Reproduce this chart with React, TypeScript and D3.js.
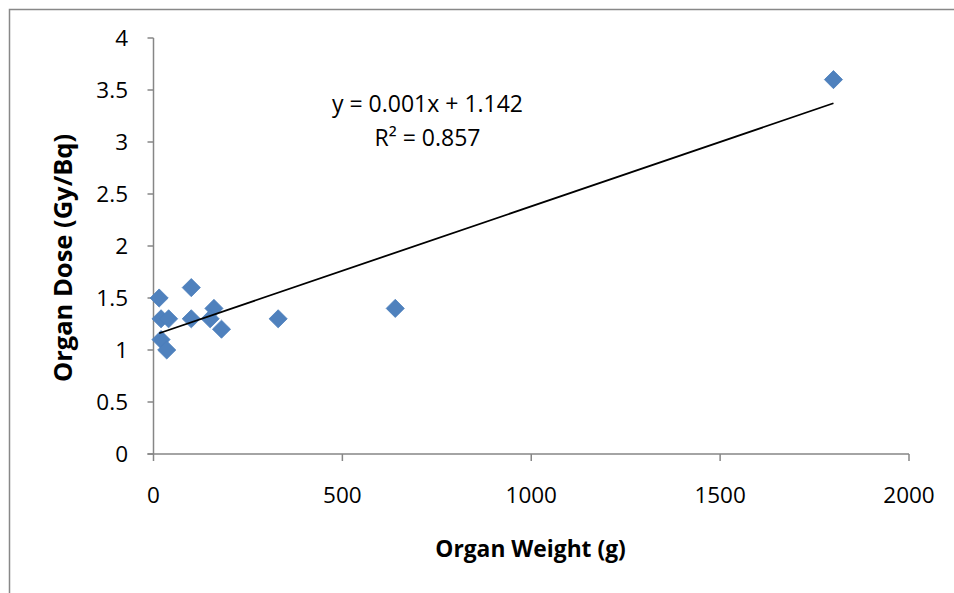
import React from "react";
import * as d3 from "d3";

const organWeight = [15, 100, 20, 40, 100, 160, 150, 180, 20, 35, 330, 640, 1800];
const organDose = [1.5, 1.6, 1.3, 1.3, 1.3, 1.4, 1.3, 1.2, 1.1, 1.0, 1.3, 1.4, 3.6];
const xTicks = [0, 500, 1000, 1500, 2000];
const yTicks = [0, 0.5, 1, 1.5, 2, 2.5, 3, 3.5, 4];
const xTitle = "Organ Weight (g)";
const yTitle = "Organ Dose (Gy/Bq)";
const equationLabel = "y = 0.001x + 1.142";
const r2Label = "R² = 0.857";

const W = 954;
const H = 593;
const FONT = "'Open Sans', 'Noto Sans', sans-serif";

export default function App() {
  const x = d3.scaleLinear().domain([0, 2000]).range([153.5, 909]);
  const y = d3.scaleLinear().domain([0, 4]).range([454, 38]);

  const mx = d3.mean(organWeight)!;
  const my = d3.mean(organDose)!;
  let sxy = 0, sxx = 0;
  for (let i = 0; i < organWeight.length; i++) {
    sxy += (organWeight[i] - mx) * (organDose[i] - my);
    sxx += (organWeight[i] - mx) ** 2;
  }
  const slope = sxy / sxx;
  const intercept = my - slope * mx;
  const x0 = d3.min(organWeight)!;
  const x1 = d3.max(organWeight)!;
  const trend = d3.line<number>().x((d) => x(d)).y((d) => y(intercept + slope * d))([x0, x1]) || "";

  const symbol = d3.symbol().type(d3.symbolDiamond2).size(210)() || "";
  const axisColor = "#868686";

  return (
    <svg width={W} height={H} style={{ position: "absolute", left: 0, top: 0, background: "#fff" }}>
      <rect x={9.5} y={9.5} width={1200} height={1200} fill="#fff" stroke="#888" strokeWidth={1.5} />
      {/* y axis */}
      <line x1={x(0)} x2={x(0)} y1={y(4)} y2={y(0)} stroke={axisColor} strokeWidth={1.5} />
      {yTicks.map((t) => (
        <g key={"y" + t}>
          <line x1={x(0) - 6} x2={x(0)} y1={y(t)} y2={y(t)} stroke={axisColor} strokeWidth={1.5} />
          <text x={128} y={y(t)} dy="0.36em" textAnchor="end" fontFamily={FONT} fontSize={22.5} fill="#000">
            {String(t)}
          </text>
        </g>
      ))}
      {/* x axis */}
      <line x1={x(0) - 6} x2={x(2000)} y1={y(0)} y2={y(0)} stroke={axisColor} strokeWidth={1.5} />
      {xTicks.map((t) => (
        <g key={"x" + t}>
          <line x1={x(t)} x2={x(t)} y1={y(0)} y2={y(0) + 7} stroke={axisColor} strokeWidth={1.5} />
          <text x={x(t)} y={503} textAnchor="middle" fontFamily={FONT} fontSize={22.5} fill="#000">
            {String(t)}
          </text>
        </g>
      ))}
      {/* points */}
      {organWeight.map((w, i) => (
        <path
          key={"p" + i}
          d={symbol}
          transform={`translate(${x(w)},${y(organDose[i])})`}
          fill="#4F81BD"
          stroke="#4A7EBB"
          strokeWidth={0.8}
        />
      ))}
      {/* trendline */}
      <path d={trend} stroke="#000" strokeWidth={1.8} fill="none" />
      <text x={427.5} y={112} textAnchor="middle" fontFamily={FONT} fontSize={23} fill="#000">
        {equationLabel}
      </text>
      <text x={427.5} y={146} textAnchor="middle" fontFamily={FONT} fontSize={23} fill="#000">
        {r2Label}
      </text>
      {/* titles */}
      <text x={530.5} y={557} textAnchor="middle" fontFamily={FONT} fontSize={22.8} fontWeight="bold" fill="#000">
        {xTitle}
      </text>
      <text
        transform={`translate(72,258) rotate(-90)`}
        textAnchor="middle"
        fontFamily={FONT}
        fontSize={25.5}
        fontWeight="bold"
        fill="#000"
      >
        {yTitle}
      </text>
    </svg>
  );
}
